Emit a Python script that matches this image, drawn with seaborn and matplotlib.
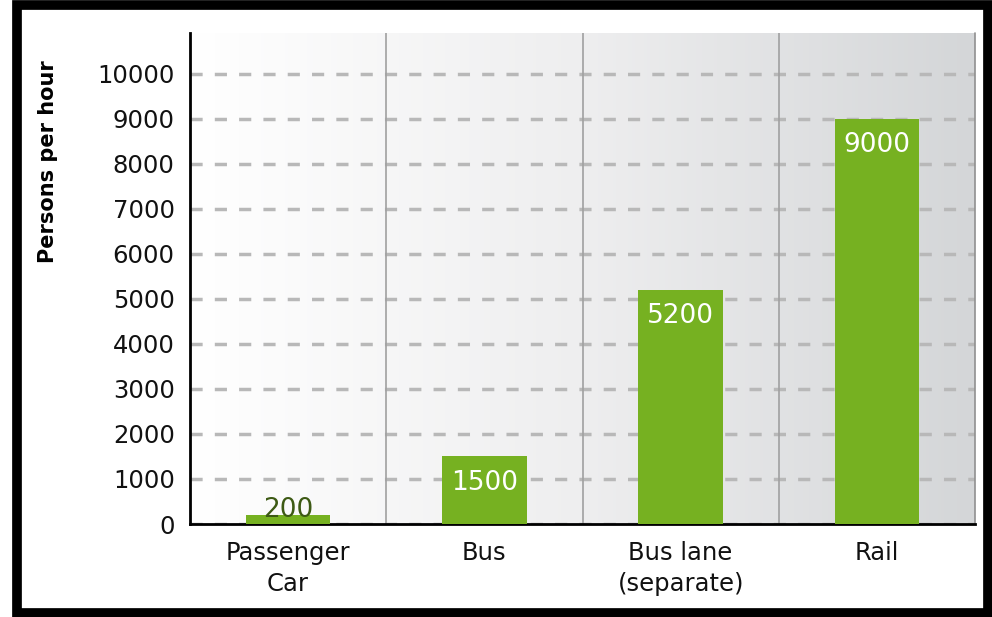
import numpy as np
import pandas as pd
import matplotlib
matplotlib.use("Agg")
import matplotlib.pyplot as plt
import seaborn as sns
from matplotlib.patches import Rectangle

categories = ["Passenger\nCar", "Bus", "Bus lane\n(separate)", "Rail"]
values = [200, 1500, 5200, 9000]
yticks = [0, 1000, 2000, 3000, 4000, 5000, 6000, 7000, 8000, 9000, 10000]

df = pd.DataFrame({"mode": categories, "persons": values})

sns.set_style("white")
plt.rcParams["font.family"] = ["DejaVu Sans"]

fig = plt.figure(figsize=(9.92, 6.17), dpi=100)
ax = fig.add_axes([190/992, 1 - 524/617, (975-190)/992, (524-33)/617])

# gradient background
grad = np.linspace(0, 1, 256).reshape(1, -1)
cmap = matplotlib.colors.LinearSegmentedColormap.from_list("bg", ["#ffffff", "#eeeeef", "#d4d6d8"])
ax.imshow(grad, extent=[0, 1, 0, 1], transform=ax.transAxes, aspect="auto",
          cmap=cmap, zorder=0)

sns.barplot(data=df, x="mode", y="persons", color="#76b121", width=0.43,
            saturation=1, linewidth=0, ax=ax, zorder=3)

ax.set_xlim(-0.5, 3.5)
ax.set_ylim(0, 10900)
ax.set_yticks(yticks)
ax.set_yticklabels([str(t) for t in yticks], fontsize=17.5, color="#111111")
ax.tick_params(axis="y", length=5, width=1.5, color="black", pad=6)
ax.set_xticks(range(len(categories)))
ax.set_xticklabels(categories, fontsize=17.5, color="#111111", linespacing=1.4)
ax.tick_params(axis="x", which="major", length=0, pad=12)
ax.set_xticks([-0.5, 0.5, 1.5, 2.5, 3.5], minor=True)
ax.tick_params(axis="x", which="minor", length=6, width=1.5, color="black")
ax.set_xlabel("")
ax.set_ylabel("Persons per hour", fontsize=15, fontweight="bold", color="black")
ax.yaxis.set_label_coords(-0.168, 0.739)

for t in yticks:
    ax.axhline(t, color="#b8b8b8", lw=2.5, ls=(0, (3.5, 3.5)), zorder=1)
for b in [0.5, 1.5, 2.5]:
    ax.axvline(b, color="#a0a0a0", lw=1.2, zorder=2)

for s in ["top", "right"]:
    ax.spines[s].set_visible(False)
ax.spines["left"].set_linewidth(2)
ax.spines["bottom"].set_linewidth(2)
ax.spines["left"].set_color("black")
ax.spines["bottom"].set_color("black")
ax.plot([1, 1], [0, 1], transform=ax.transAxes, color="#909090", lw=1.2, zorder=2, clip_on=False)

for i, v in enumerate(values):
    if v < 1000:
        ax.text(i, v + 110, str(v), ha="center", va="center", fontsize=19,
                color="#3d5a14", zorder=5)
    else:
        ax.text(i, v - 580, str(v), ha="center", va="center", fontsize=19,
                color="white", zorder=5)

# figure frame
fig.patches.append(Rectangle((17/992, 4/617), (988-17)/992, (612-4)/617,
                             transform=fig.transFigure, fill=False,
                             edgecolor="black", lw=7, zorder=10))

fig.savefig("out.png", dpi=100)
